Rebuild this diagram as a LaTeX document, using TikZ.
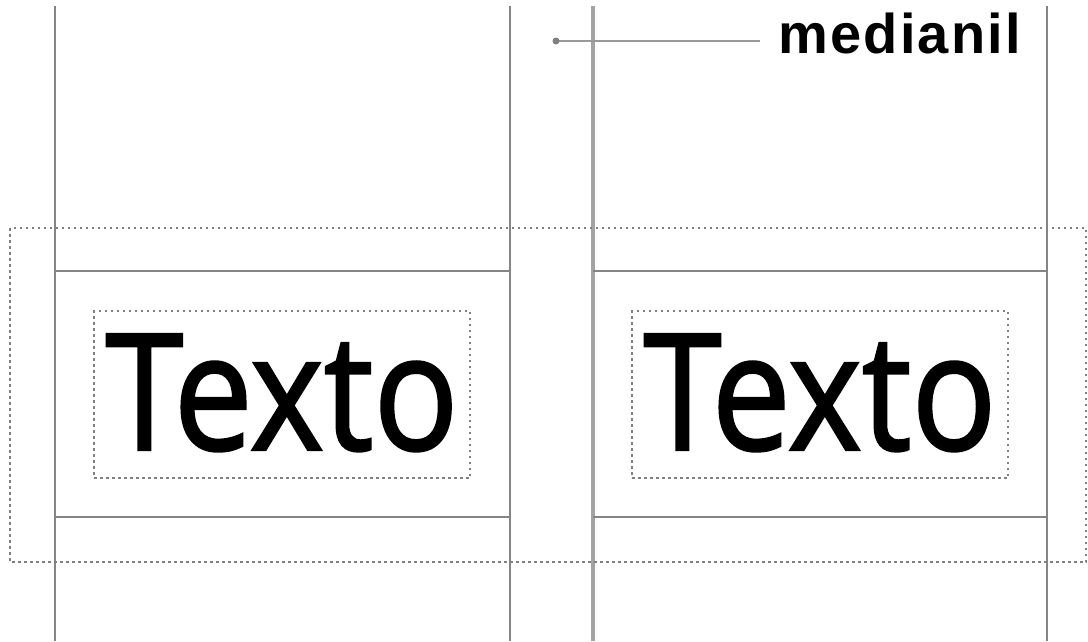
\documentclass[tikz,border=0pt]{standalone}
\usepackage{fontspec}
\setmainfont{Liberation Sans}
\newfontfamily\textofont{Open Sans}[FakeBold=1.6]
\newfontfamily\labelfont{Liberation Sans}[LetterSpace=4]
\usetikzlibrary{positioning}

\begin{document}
\begin{tikzpicture}[x=1pt, y=-1pt,
    rule/.style={draw=black!48, line width=2.6pt},
    guide/.style={draw=black!50, line width=1.4pt, dash pattern=on 2.5pt off 3.5pt},
    textbox/.style={guide, minimum width=376pt, minimum height=167pt, inner sep=0pt,
      font=\textofont\fontsize{162}{162}\selectfont},
    leader/.style={draw=black!40, line width=1.5pt}]
        \useasboundingbox (0,0) rectangle (1088,641);

        % Grid lines of the two columns
        \foreach \x in {55, 510, 1047} {
          \draw[rule] (\x,6) -- (\x,641);
        }
        \draw[rule, draw=black!36, line width=3.4pt] (593,6) -- (593,641);
        \foreach \y in {271, 517} {
          \draw[rule] (55,\y) -- (510,\y);
          \draw[rule] (593,\y) -- (1047,\y);
        }

        % Outer guide
        \draw[guide] (10,228) rectangle (1086,562);

        % Text boxes
        \node[textbox] (textoA) at (282,394.5) {\raisebox{5pt}{\scalebox{0.87}[1]{Texto}}};
        \node[textbox] (textoB) at (820,394.5) {\raisebox{5pt}{\scalebox{0.87}[1]{Texto}}};

        % Label
        \coordinate (pin) at (556,41);
        \node[anchor=base west, inner xsep=18pt, font=\labelfont\bfseries\fontsize{56}{56}\selectfont] (medianil) at (760,53) {medianil};
        \draw[leader] (pin) -- (pin -| medianil.west);
        \fill[black!50] (pin) circle (3.5pt);
      \end{tikzpicture}
\end{document}
